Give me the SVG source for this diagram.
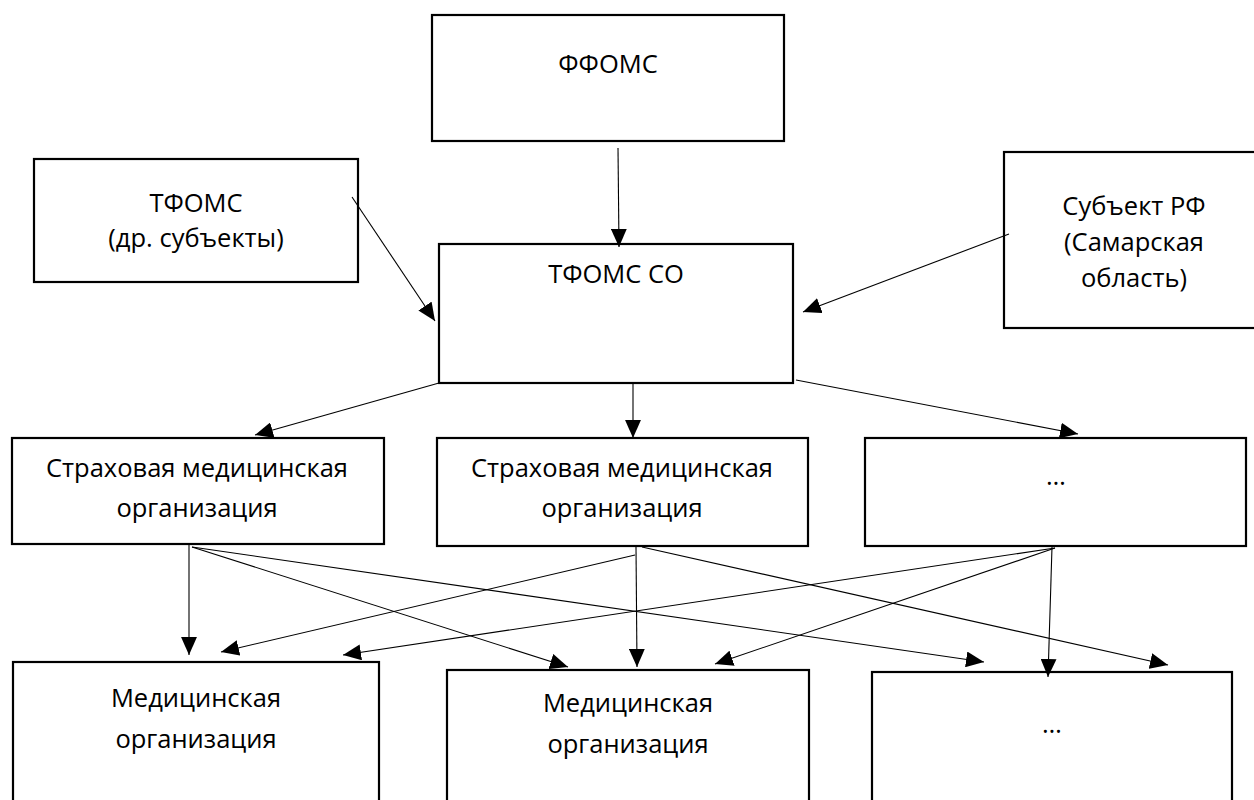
<svg xmlns="http://www.w3.org/2000/svg" width="1254" height="800" viewBox="0 0 1254 800">
<style>
.box{fill:#fff;stroke:#000;stroke-width:2.2}
.t{font-family:"Open Sans","Noto Sans","DejaVu Sans",sans-serif;font-size:25.5px;fill:#000;text-anchor:middle}
.c{fill:none;stroke:#000;stroke-width:1.1}
</style>
<defs>
<marker id="ah" markerUnits="userSpaceOnUse" markerWidth="18" markerHeight="16" viewBox="0 0 17 15" refX="17" refY="7.5" orient="auto">
<path d="M0,0 L17,7.5 L0,15 z" fill="#000"/>
</marker>
</defs>
<rect width="1254" height="800" fill="#fff"/>
<g id="ffoms"><rect class="box" x="432" y="15" width="352" height="126"/><text class="t" x="608" y="73">ФФОМС</text></g>
<g id="tfoms-other"><rect class="box" x="34" y="159" width="324" height="123"/><text class="t" x="196" y="212">ТФОМС</text><text class="t" x="196" y="247">(др. субъекты)</text></g>
<g id="subject"><rect class="box" x="1004" y="152" width="254" height="176"/><text class="t" x="1134" y="215">Субъект РФ</text><text class="t" x="1134" y="251">(Самарская</text><text class="t" x="1134" y="287">область)</text></g>
<g id="tfoms-so"><rect class="box" x="439" y="244" width="354" height="139"/><text class="t" x="616" y="283">ТФОМС СО</text></g>
<g id="smo1"><rect class="box" x="12" y="438" width="372" height="106"/><text class="t" x="197" y="477">Страховая медицинская</text><text class="t" x="197" y="517">организация</text></g>
<g id="smo2"><rect class="box" x="437" y="438" width="371" height="108"/><text class="t" x="622" y="477">Страховая медицинская</text><text class="t" x="622" y="517">организация</text></g>
<g id="smo3"><rect class="box" x="865" y="438" width="381" height="108"/><text class="t" x="1056" y="485">…</text></g>
<g id="mo1"><rect class="box" x="13" y="662" width="366" height="150"/><text class="t" x="196" y="707">Медицинская</text><text class="t" x="196" y="748">организация</text></g>
<g id="mo2"><rect class="box" x="447" y="670" width="362" height="150"/><text class="t" x="628" y="712">Медицинская</text><text class="t" x="628" y="753">организация</text></g>
<g id="mo3"><rect class="box" x="872" y="672" width="360" height="150"/><text class="t" x="1052" y="733">…</text></g>
<g id="connectors">
<line class="c" x1="618" y1="148" x2="619" y2="247" marker-end="url(#ah)"/>
<line class="c" x1="352" y1="197" x2="435" y2="321" marker-end="url(#ah)"/>
<line class="c" x1="1009" y1="234" x2="803" y2="312" marker-end="url(#ah)"/>
<line class="c" x1="439" y1="383" x2="255" y2="435" marker-end="url(#ah)"/>
<line class="c" x1="633" y1="384" x2="633" y2="438" marker-end="url(#ah)"/>
<line class="c" x1="796" y1="380" x2="1078" y2="434" marker-end="url(#ah)"/>
<line class="c" x1="189" y1="545" x2="189" y2="655" marker-end="url(#ah)"/>
<line class="c" x1="192" y1="547" x2="568" y2="667" marker-end="url(#ah)"/>
<line class="c" x1="192" y1="547" x2="984" y2="662" marker-end="url(#ah)"/>
<line class="c" x1="635" y1="555" x2="221" y2="652" marker-end="url(#ah)"/>
<line class="c" x1="636" y1="547" x2="637" y2="667" marker-end="url(#ah)"/>
<line class="c" x1="642" y1="547" x2="1168" y2="665" marker-end="url(#ah)"/>
<line class="c" x1="1055" y1="548" x2="343" y2="655" marker-end="url(#ah)"/>
<line class="c" x1="1055" y1="548" x2="715" y2="664" marker-end="url(#ah)"/>
<line class="c" x1="1052" y1="547" x2="1048" y2="677" marker-end="url(#ah)"/>
</g>
</svg>
